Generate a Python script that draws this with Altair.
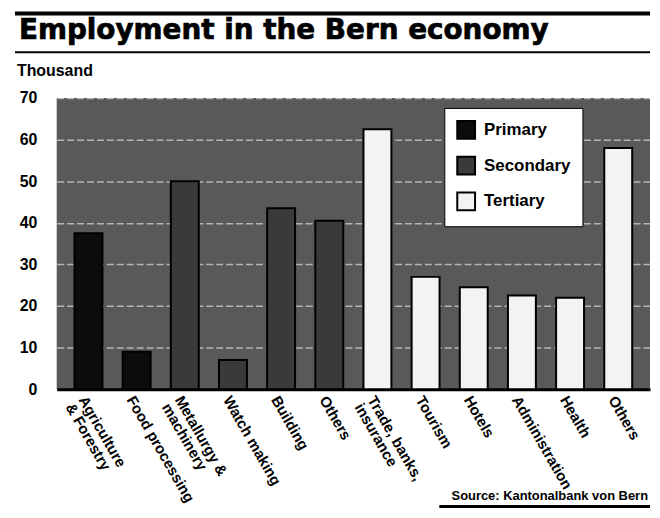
import altair as alt
import pandas as pd

# ---- data ----
categories = [
    "Agriculture|& Forestry",
    "Food processing",
    "Metallurgy &|machinery",
    "Watch making",
    "Building",
    "Others",
    "Trade, banks,|insurance",
    "Tourism",
    "Hotels",
    "Administration",
    "Health",
    "Others ",
]
employment = [37.5, 9, 50, 7, 43.5, 40.5, 62.5, 27, 24.5, 22.5, 22, 58]
sectors = [
    "Primary", "Primary", "Secondary", "Secondary", "Secondary", "Secondary",
    "Tertiary", "Tertiary", "Tertiary", "Tertiary", "Tertiary", "Tertiary",
]
sector_names = ["Primary", "Secondary", "Tertiary"]
sector_colors = ["#0c0c0c", "#3a3a3a", "#f3f3f3"]
y_ticks = [0, 10, 20, 30, 40, 50, 60, 70]

title_text = "Employment in the Bern economy"
unit_text = "Thousand"
source_text = "Source: Kantonalbank von Bern"

df = pd.DataFrame({"category": categories, "value": employment, "sector": sectors})

LBL = "Liberation Sans, Arial, sans-serif"

bars = alt.Chart(df).mark_bar(stroke="black", strokeWidth=2).encode(
    x=alt.X(
        "category:N",
        sort=categories,
        title=None,
        scale=alt.Scale(paddingInner=0.42, paddingOuter=0.37),
        axis=alt.Axis(
            labelAngle=60,
            labelAlign="left",
            labelBaseline="top",
            labelFont=LBL,
            labelFontSize=15,
            labelFontWeight="bold",
            labelColor="black",
            labelExpr="split(datum.label, '|')",
            labelLineHeight=15,
            labelLimit=0,
            labelPadding=4,
            ticks=False,
            domainColor="black",
            domainWidth=3,
            grid=False,
        ),
    ),
    y=alt.Y(
        "value:Q",
        title=None,
        scale=alt.Scale(domain=[0, 70], nice=False),
        axis=alt.Axis(
            values=y_ticks,
            labelFont=LBL,
            labelFontSize=16,
            labelFontWeight="bold",
            labelColor="black",
            labelPadding=20,
            ticks=False,
            domain=False,
            grid=True,
            gridColor="white",
            gridWidth=1.5,
            gridOpacity=0.55,
            gridDash=[7, 3],
        ),
    ),
    color=alt.Color(
        "sector:N",
        scale=alt.Scale(domain=sector_names, range=sector_colors),
        legend=alt.Legend(
            title=None,
            orient="none",
            legendX=390,
            legendY=10,
            direction="vertical",
            fillColor="white",
            strokeColor="black",
            padding=12,
            symbolType="square",
            symbolSize=320,
            symbolStrokeColor="black",
            symbolStrokeWidth=2,
            labelFont=LBL,
            labelFontSize=17,
            labelFontWeight="bold",
            labelColor="black",
            labelOffset=8,
            rowPadding=10,
        ),
    ),
)

def rule(x1, x2, yv, w):
    return alt.Chart(pd.DataFrame({"k": [0]})).mark_rule(color="black", strokeWidth=w).encode(
        x=alt.value(x1), x2=alt.value(x2), y=alt.value(yv)
    )

def label(txt, xv, yv, size, font, align="left", stroke_w=0):
    return alt.Chart(pd.DataFrame({"t": [txt]})).mark_text(
        font=font, fontSize=size, fontWeight="bold", color="black",
        stroke="black", strokeWidth=stroke_w,
        align=align, baseline="alphabetic"
    ).encode(text="t:N", x=alt.value(xv), y=alt.value(yv))

top_rule = rule(-42, 597, -85, 4)
under_rule = rule(-42, 597, -46, 2)
bottom_rule = rule(385, 597, 411, 3)
title = label(title_text, -38, -59, 28, "DejaVu Sans", stroke_w=0.7)
unit = label(unit_text, -40, -22, 16, LBL)
source = label(source_text, 595, 404, 13, LBL, align="right")

chart = alt.layer(bars, top_rule, under_rule, bottom_rule, title, unit, source).properties(
    width=597,
    height=293,
    padding={"left": 5, "top": 2, "right": 0, "bottom": 0},
    background="white",
).configure_view(fill="#595959", strokeWidth=0)

chart.save("out.html", embed_options={"renderer": "svg", "actions": False})
